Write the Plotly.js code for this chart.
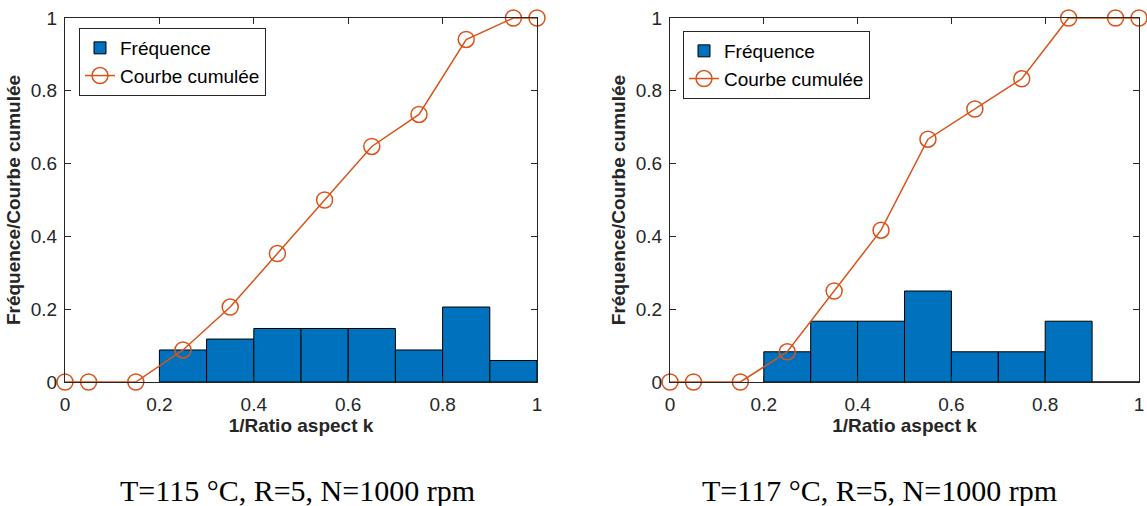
<!DOCTYPE html>
<html><head><meta charset="utf-8">
<script src="https://cdn.plot.ly/plotly-3.0.1.min.js"></script>
<style>body{margin:0;background:#fff}#c{width:1147px;height:506px}</style>
</head><body><div id="c"></div>
<script>
// Left chart: T=115 °C
const binCenters = [0.25, 0.35, 0.45, 0.55, 0.65, 0.75, 0.85, 0.95];
const freqLeft = [0.088, 0.118, 0.147, 0.147, 0.147, 0.088, 0.206, 0.059];
const cumX = [0, 0.05, 0.15, 0.25, 0.35, 0.45, 0.55, 0.65, 0.75, 0.85, 0.95, 1.0];
const cumLeft = [0, 0, 0, 0.088, 0.206, 0.353, 0.5, 0.647, 0.735, 0.941, 1, 1];
// Right chart: T=117 °C
const freqRight = [0.083, 0.167, 0.167, 0.25, 0.083, 0.083, 0.167, 0];
const cumRight = [0, 0, 0, 0.083, 0.25, 0.417, 0.667, 0.75, 0.833, 1, 1, 1];
const tickVals = [0, 0.2, 0.4, 0.6, 0.8, 1];
const tickText = ["0", "0.2", "0.4", "0.6", "0.8", "1"];
const captions = ["T=115 °C, R=5, N=1000 rpm", "T=117 °C, R=5, N=1000 rpm"];
const nameBar = "Fréquence", nameLine = "Courbe cumulée";
const xTitle = "1/Ratio aspect k", yTitle = "Fréquence/Courbe cumulée";

const blue = "#0072BD", orange = "#D95319", axc = "#262626";
const F = "Liberation Sans, Arial, sans-serif";
const FS = 19;

function barTrace(y, xa, ya, lg) {
  return {type: "bar", x: binCenters, y: y, width: 0.1, xaxis: xa, yaxis: ya, name: nameBar,
    legend: lg, marker: {color: blue, line: {color: "#000", width: 1}}};
}
function lineTrace(y, xa, ya, lg) {
  return {type: "scatter", mode: "lines+markers", x: cumX, y: y, xaxis: xa, yaxis: ya, name: nameLine,
    legend: lg, cliponaxis: false, line: {color: orange, width: 1.5},
    marker: {symbol: "circle-open", size: 16, color: orange, line: {width: 1.5, color: orange}}};
}
const data = [
  barTrace(freqLeft, "x", "y", "legend"),
  lineTrace(cumLeft, "x", "y", "legend"),
  barTrace(freqRight, "x2", "y2", "legend2"),
  lineTrace(cumRight, "x2", "y2", "legend2")
];
function common() {
  return {range: [0, 1], tickvals: tickVals, ticktext: tickText,
    ticks: "inside", ticklen: 6, tickcolor: axc, showline: true, mirror: "ticks", linecolor: axc, linewidth: 1,
    showgrid: false, zeroline: false, tickfont: {family: F, size: FS, color: axc}};
}
function xax(dom, anchor) {
  return Object.assign(common(), {domain: dom, anchor: anchor, ticklabelstandoff: 5,
    title: {text: "<b>" + xTitle + "</b>", font: {family: F, size: FS, color: axc}, standoff: 3}});
}
function yax(dom, anchor) {
  return Object.assign(common(), {domain: dom, anchor: anchor, ticklabelstandoff: 3,
    title: {text: "<b>" + yTitle + "</b>", font: {family: F, size: FS, color: axc}, standoff: 5}});
}
const W = 1147, H = 506;
const yd = [(H - 382) / H, (H - 18) / H];
const legendStyle = {xanchor: "left", yanchor: "top", bgcolor: "#fff", bordercolor: axc, borderwidth: 1,
  font: {family: F, size: FS, color: "#000"}, tracegroupgap: 0};
const serif = {family: "Liberation Serif, Times New Roman, serif", size: 30, color: "#000"};
const layout = {
  width: W, height: H, margin: {l: 0, r: 0, t: 0, b: 0},
  paper_bgcolor: "#fff", plot_bgcolor: "#fff", barmode: "overlay", showlegend: true,
  xaxis: xax([65 / W, 537 / W], "y"), yaxis: yax(yd, "x"),
  xaxis2: xax([670 / W, 1139 / W], "y2"), yaxis2: yax(yd, "x2"),
  legend: Object.assign({x: 79 / W, y: (H - 28) / H}, legendStyle),
  legend2: Object.assign({x: 683 / W, y: (H - 31) / H}, legendStyle),
  annotations: [
    {text: captions[0], xref: "paper", yref: "paper", x: 297 / W, y: (H - 490) / H, xanchor: "center", yanchor: "middle",
      showarrow: false, font: serif},
    {text: captions[1], xref: "paper", yref: "paper", x: 879 / W, y: (H - 490) / H, xanchor: "center", yanchor: "middle",
      showarrow: false, font: serif}
  ]
};
Plotly.newPlot("c", data, layout, {staticPlot: true});
</script></body></html>
